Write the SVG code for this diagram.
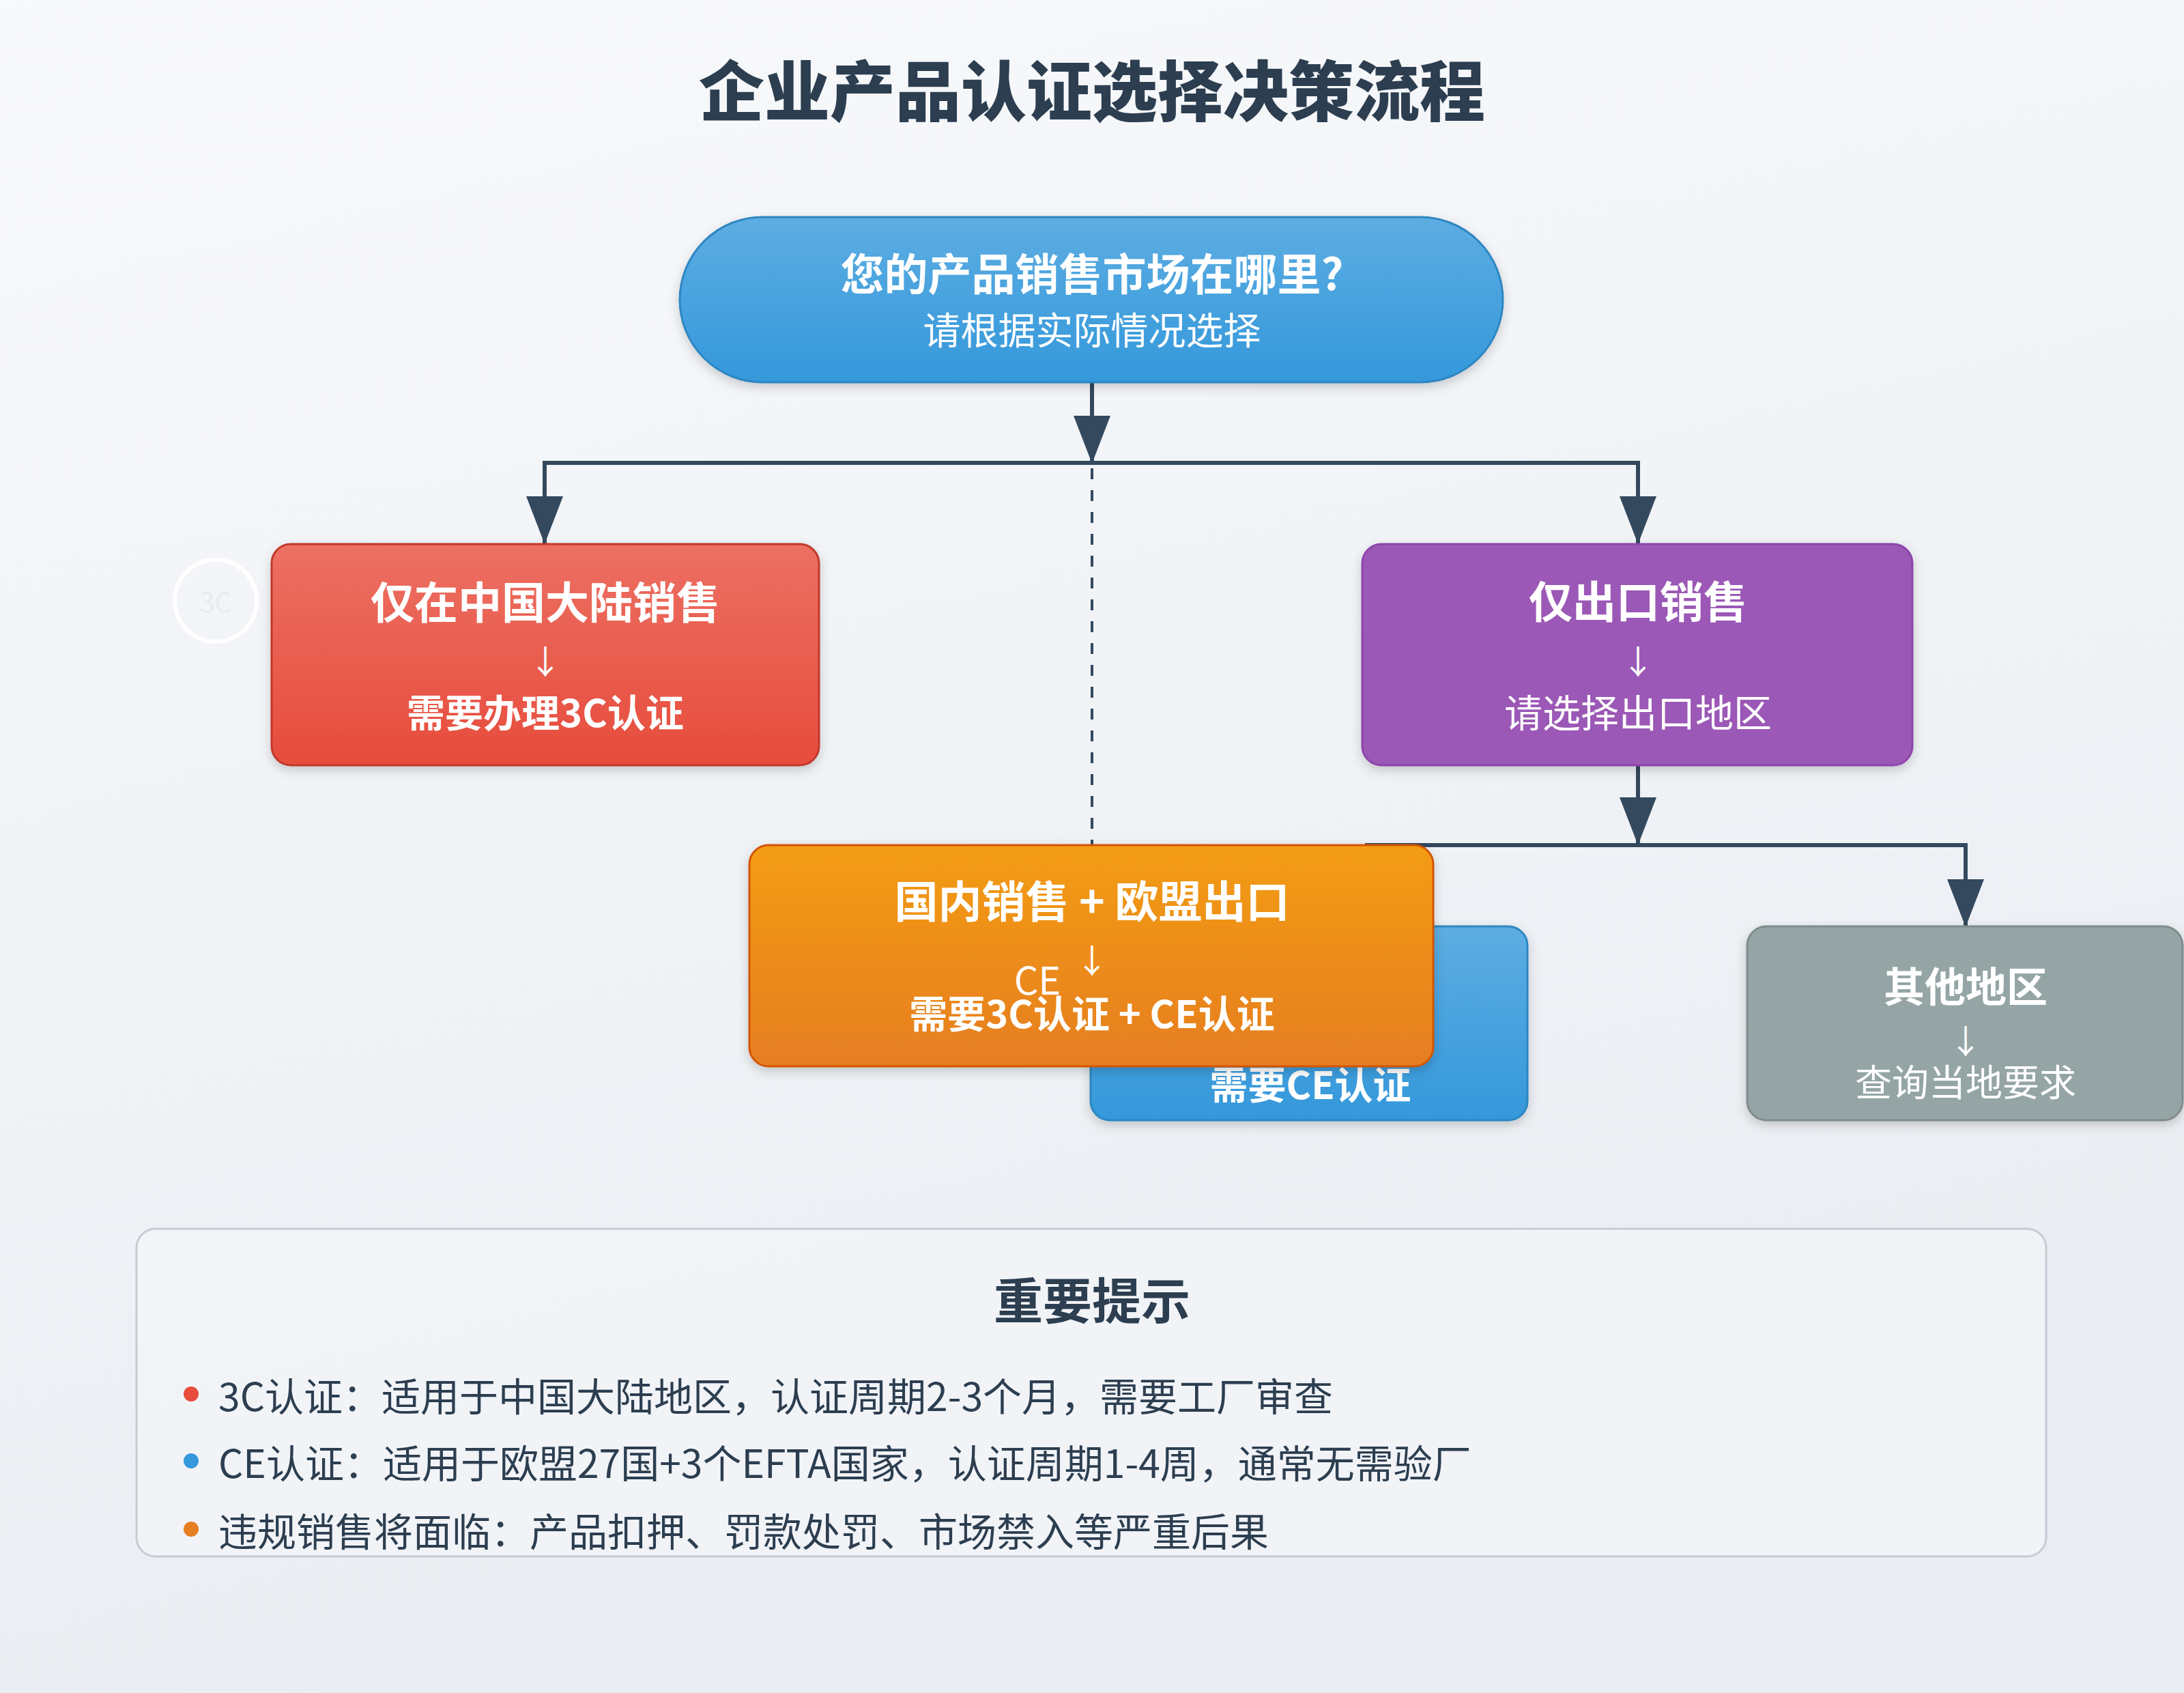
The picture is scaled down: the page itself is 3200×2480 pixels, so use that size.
<svg xmlns="http://www.w3.org/2000/svg" width="3200" height="2480" viewBox="0 0 3200 2480">
<defs>
<linearGradient id="bg" x1="0" y1="0" x2="0.3" y2="1">
<stop offset="0" stop-color="#f8f9fb"/>
<stop offset="1" stop-color="#e9edf2"/>
</linearGradient>
<linearGradient id="gBlue" x1="0" y1="0" x2="0" y2="1">
<stop offset="0" stop-color="#5dade2"/>
<stop offset="1" stop-color="#3498db"/>
</linearGradient>
<linearGradient id="gRed" x1="0" y1="0" x2="0" y2="1">
<stop offset="0" stop-color="#ec7063"/>
<stop offset="1" stop-color="#e74c3c"/>
</linearGradient>
<linearGradient id="gOrange" x1="0" y1="0" x2="0" y2="1">
<stop offset="0" stop-color="#f39c12"/>
<stop offset="1" stop-color="#e67e22"/>
</linearGradient>
<filter id="sh" x="-10%" y="-10%" width="120%" height="130%">
<feDropShadow dx="0" dy="6" stdDeviation="8" flood-color="#000" flood-opacity="0.18"/>
</filter>
<marker id="ah" markerUnits="userSpaceOnUse" markerWidth="72" markerHeight="54" refX="70" refY="27" orient="auto" viewBox="0 0 72 54">
<path d="M0,0 L70,27 L0,54 Z" fill="#34495e"/>
</marker>
<style>
text{font-family:"Noto Sans CJK SC","Noto Sans",sans-serif;text-anchor:middle;dominant-baseline:central}
.w{fill:#ffffff}
.b{font-weight:bold}
.con{stroke:#34495e;stroke-width:6;fill:none}
.arw{font-size:48px;fill:#ffffff}
.tip{font-size:57px;fill:#2c3e50;text-anchor:start}
</style>
</defs>
<rect x="0" y="0" width="3200" height="2480" fill="url(#bg)"/>
<text x="1600" y="127" font-size="96" font-weight="900" fill="#2c3e50">企业产品认证选择决策流程</text>

<g id="connectors">
<line class="con" x1="798" y1="678" x2="2400" y2="678"/>
<line class="con" x1="1600" y1="560" x2="1600" y2="679" marker-end="url(#ah)"/>
<line class="con" x1="798" y1="675" x2="798" y2="797" marker-end="url(#ah)"/>
<line class="con" x1="2400" y1="675" x2="2400" y2="797" marker-end="url(#ah)"/>
<line x1="1600" y1="686" x2="1600" y2="1237" stroke="#34495e" stroke-width="4" stroke-dasharray="16,16"/>
<line class="con" x1="2400" y1="1122" x2="2400" y2="1238" marker-end="url(#ah)"/>
<line class="con" x1="2000" y1="1238" x2="2883" y2="1238"/>
<line class="con" x1="2880" y1="1235" x2="2880" y2="1358" marker-end="url(#ah)"/>
</g>

<g id="start">
<rect x="996" y="318" width="1206" height="242" rx="121" fill="url(#gBlue)" stroke="#2e86c1" stroke-width="3" filter="url(#sh)"/>
<text x="1600" y="397" font-size="64" class="w b">您的产品销售市场在哪里?</text>
<text x="1600" y="480" font-size="55" class="w">请根据实际情况选择</text>
</g>

<g id="badge3c">
<circle cx="316" cy="880" r="60" fill="none" stroke="#ffffff" stroke-width="6"/>
<text x="316" y="880" font-size="40" fill="#e8ecf0">3C</text>
</g>

<g id="china">
<rect x="398" y="797" width="802" height="324" rx="28" fill="url(#gRed)" stroke="#c0392b" stroke-width="3" filter="url(#sh)"/>
<text x="799" y="878" font-size="64" class="w b">仅在中国大陆销售</text>
<text x="799" y="966" class="arw">↓</text>
<text x="799" y="1040" font-size="56" class="w b">需要办理3C认证</text>
</g>

<g id="export">
<rect x="1996" y="797" width="806" height="324" rx="28" fill="#9b59b6" stroke="#8e44ad" stroke-width="3" filter="url(#sh)"/>
<text x="2400" y="877" font-size="64" class="w b">仅出口销售</text>
<text x="2400" y="966" class="arw">↓</text>
<text x="2400" y="1040" font-size="56" class="w">请选择出口地区</text>
</g>

<g id="eu">
<rect x="1598" y="1357" width="640" height="284" rx="28" fill="url(#gBlue)" stroke="#2e86c1" stroke-width="3" filter="url(#sh)"/>
<text x="1920" y="1585" font-size="56" class="w b">需要CE认证</text>
</g>

<g id="other">
<rect x="2560" y="1357" width="638" height="284" rx="28" fill="#95a5a6" stroke="#7f8c8d" stroke-width="3" filter="url(#sh)"/>
<text x="2880" y="1441" font-size="60" class="w b">其他地区</text>
<text x="2880" y="1522" class="arw">↓</text>
<text x="2880" y="1582" font-size="54" class="w">查询当地要求</text>
</g>

<g id="both">
<rect x="1098" y="1238" width="1002" height="324" rx="28" fill="url(#gOrange)" stroke="#d35400" stroke-width="3" filter="url(#sh)"/>
<text x="1600" y="1316" font-size="64" class="w b">国内销售 + 欧盟出口</text>
<text x="1600" y="1404" class="arw">↓</text>
<text x="1600" y="1481" font-size="56" class="w b">需要3C认证 + CE认证</text>
</g>
<text id="ceLabel" x="1520" y="1432" font-size="56" class="w">CE</text>

<g id="notes">
<rect x="200" y="1800" width="2798" height="480" rx="28" fill="#f3f5f8" fill-opacity="0.7" stroke="#c5ccd4" stroke-width="3"/>
<text x="1600" y="1900" font-size="72" class="b" fill="#2c3e50">重要提示</text>
<circle cx="280" cy="2042" r="11" fill="#e74c3c"/>
<text x="320" y="2042" class="tip">3C认证：适用于中国大陆地区，认证周期2-3个月，需要工厂审查</text>
<circle cx="280" cy="2140" r="11" fill="#3498db"/>
<text x="320" y="2140" class="tip">CE认证：适用于欧盟27国+3个EFTA国家，认证周期1-4周，通常无需验厂</text>
<circle cx="280" cy="2240" r="11" fill="#e67e22"/>
<text x="320" y="2240" class="tip">违规销售将面临：产品扣押、罚款处罚、市场禁入等严重后果</text>
</g>
</svg>
